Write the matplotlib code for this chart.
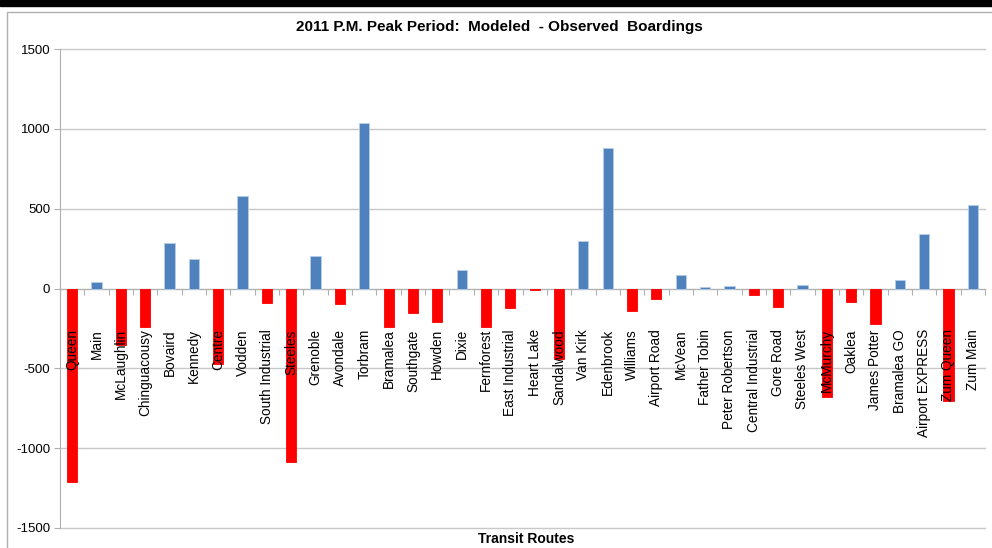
import matplotlib.pyplot as plt
import numpy as np
from matplotlib.patches import Rectangle

# route names and modeled - observed boardings
routes = ['Queen', 'Main', 'McLaughlin', 'Chinguacousy', 'Bovaird', 'Kennedy',
          'Centre', 'Vodden', 'South Industrial', 'Steeles', 'Grenoble', 'Avondale',
          'Torbram', 'Bramalea', 'Southgate', 'Howden', 'Dixie', 'Fernforest',
          'East Industrial', 'Heart Lake', 'Sandalwood', 'Van Kirk', 'Edenbrook',
          'Williams', 'Airport Road', 'McVean', 'Father Tobin', 'Peter Robertson',
          'Central Industrial', 'Gore Road', 'Steeles West', 'McMurchy', 'Oaklea',
          'James Potter', 'Bramalea GO', 'Airport EXPRESS', 'Zum Queen', 'Zum Main']
diff = [-1210, 38, -355, -240, 285, 187,
        -470, 580, -90, -1085, 202, -100,
        1035, -240, -156, -210, 115, -244,
        -121, -10, -440, 298, 883,
        -140, -67, 83, 8, 17,
        -40, -117, 21, -679, -85,
        -221, 56, 340, -705, 525]
y_ticks = [-1500, -1000, -500, 0, 500, 1000, 1500]

plt.rcParams['font.family'] = ['Liberation Sans', 'DejaVu Sans']

fig = plt.figure(figsize=(9.92, 5.48), dpi=100)
# frame like the pasted excel chart
fig.patches.append(Rectangle((0, 1 - 6 / 548), 1, 6 / 548, transform=fig.transFigure,
                             color='black', zorder=0))
fig.patches.append(Rectangle((7 / 992, -0.01), 1, 1 - 12 / 548 + 0.01, transform=fig.transFigure,
                             fill=False, edgecolor='#b0b0b0', lw=1, zorder=0))

ax = fig.add_axes([60 / 992, 1 - 528 / 548, 925 / 992, 479 / 548])
x = np.arange(len(routes))
colors = ['#4f81bd' if v >= 0 else '#ff0000' for v in diff]
edges = ['#b9cde5' if v >= 0 else '#ff0000' for v in diff]
ax.bar(x, diff, width=0.42, color=colors, edgecolor=edges, linewidth=0.6, zorder=3)

for xi, name in zip(x, routes):
    ax.text(xi, -255, name, rotation=90, ha='center', va='top', fontsize=9.8,
            color='black', zorder=4)

ax.set_xlim(-0.5, len(routes) - 0.5)
ax.set_ylim(-1500, 1500)
ax.set_yticks(y_ticks)
ax.set_yticklabels([str(v) for v in y_ticks], fontsize=9.5)
ax.yaxis.grid(True, color='#c8c8c8', lw=1)
for gl in ax.get_ygridlines():
    gl.set_clip_on(False)
ax.set_axisbelow(True)

ax.spines['top'].set_visible(False)
ax.spines['right'].set_visible(False)
ax.spines['bottom'].set_position(('data', 0))
ax.spines['bottom'].set_color('#b0b0b0')
ax.spines['left'].set_color('#b0b0b0')
ax.set_xticks(np.arange(len(routes) + 1) - 0.5)
ax.set_xticklabels([])
ax.tick_params(axis='x', direction='out', length=4, color='#b0b0b0')
ax.tick_params(axis='y', direction='out', length=4, color='#b0b0b0', pad=3)

fig.text(499 / 992, 1 - 27 / 548, '2011 P.M. Peak Period:  Modeled  - Observed  Boardings',
         ha='center', va='center', fontsize=11, fontweight='bold')
fig.text(0.5 + 30 / 992, 1 - 539 / 548, 'Transit Routes', ha='center', va='center',
         fontsize=10, fontweight='bold')

fig.savefig('out.png', dpi=100)
